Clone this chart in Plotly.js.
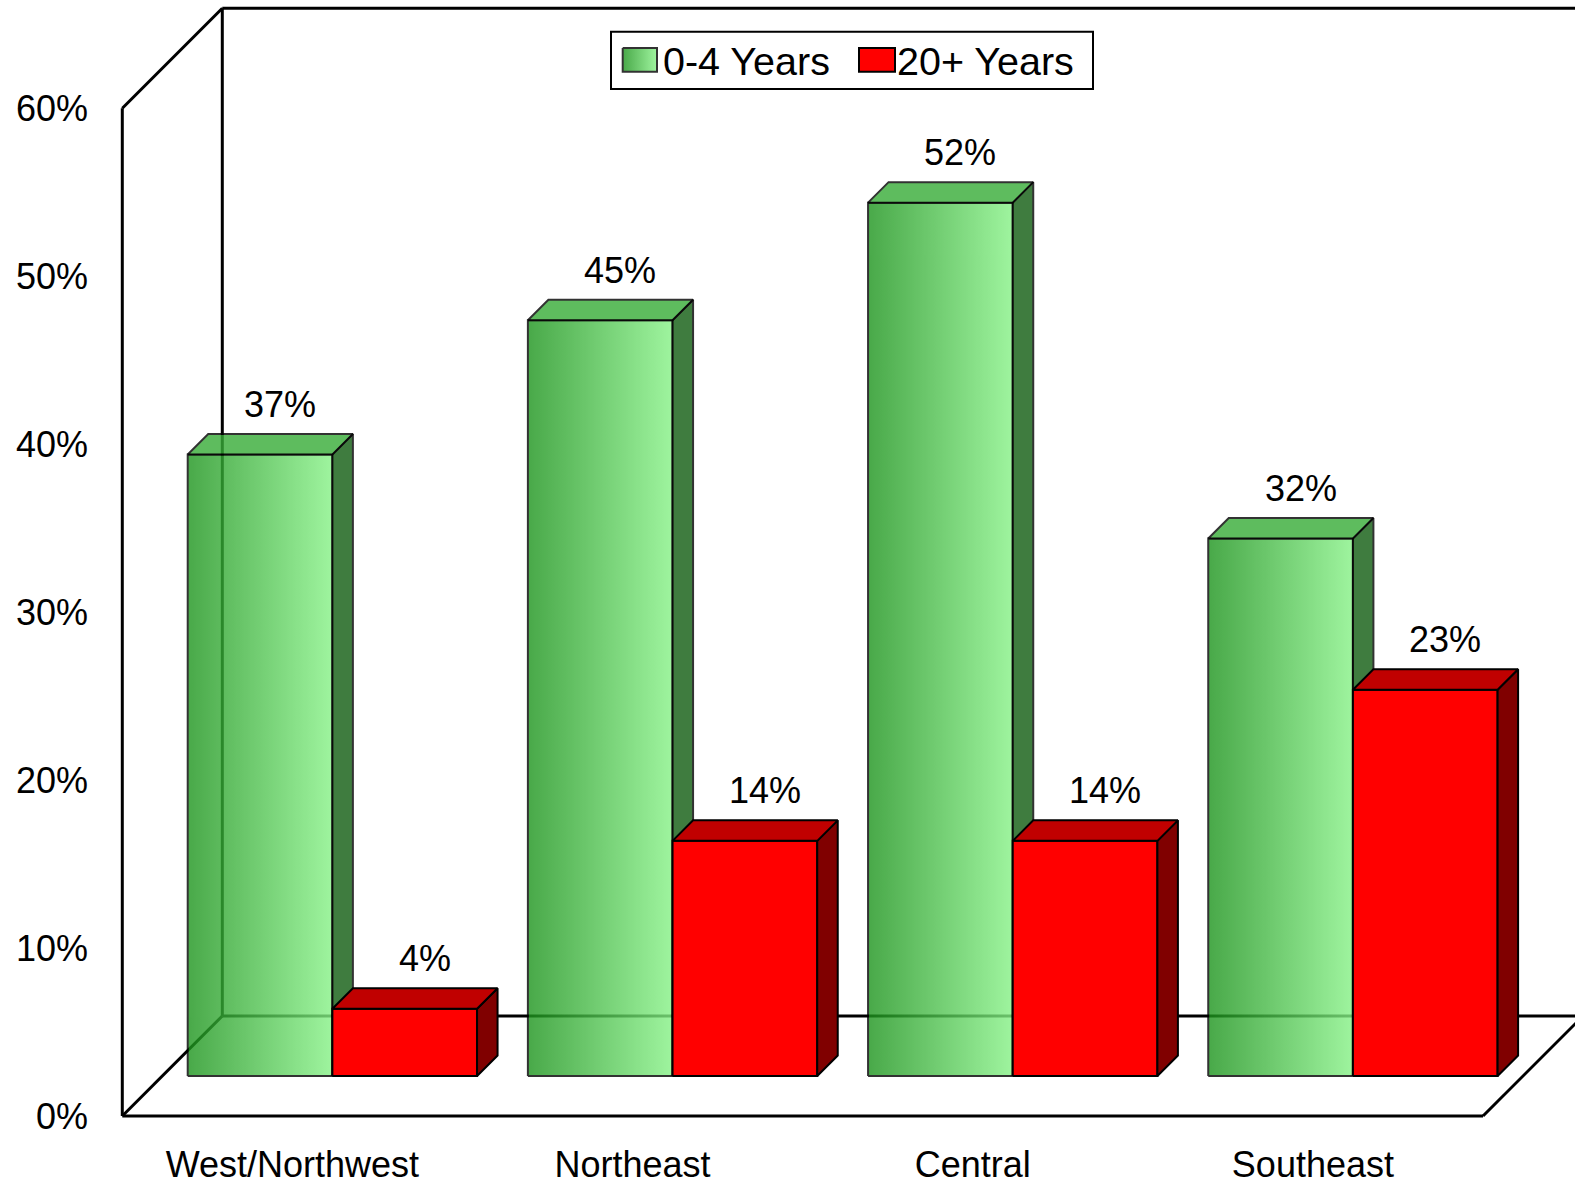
<!DOCTYPE html>
<html><head><meta charset="utf-8">
<script src="https://cdn.plot.ly/plotly-3.0.1.min.js"></script>
<style>html,body{margin:0;padding:0;background:#fff}#chart{width:1575px;height:1180px}</style>
</head><body><div id="chart"></div>
<script>
// ---- data ----
const categories = ['West/Northwest', 'Northeast', 'Central', 'Southeast'];
const years0to4 = [0.37, 0.45, 0.52, 0.32];
const years20plus = [0.04, 0.14, 0.14, 0.23];
const seriesNames = ['0-4 Years', '20+ Years'];
const yTickVals = [0, 0.1, 0.2, 0.3, 0.4, 0.5, 0.6];

// ---- geometry (pixels) ----
const W = 1575, H = 1180;
const FX0 = 122.3, FX1 = 1483, FY0 = 1116, FYTOP = 108.3; // front plane of the floor/walls
const DEPTH = 100;      // depth of the floor in px
const BAR_OFF = 40;     // offset of the bar row front plane
const BAR_D = 20.5;     // bar depth in px
const BAR_W = 0.4253;   // bar width in category units
const YMAX = 0.6;
const pxPerCat = (FX1 - FX0) / categories.length;
const pxPerVal = (FY0 - FYTOP) / YMAX;
const dxU = BAR_D / pxPerCat, dyU = BAR_D / pxPerVal;
const FONT = 'Liberation Sans, Arial, Helvetica, sans-serif';

const GREEN_SCALE = [[0, 'rgb(28,148,28)'], [1, 'rgb(135,242,135)']];
const GREEN_TOP = 'rgb(55,172,55)';
const GREEN_SIDE = 'rgb(16,92,16)';
const GREEN_OP = 0.8;
const RED_FRONT = '#ff0000', RED_TOP = '#c00000', RED_SIDE = '#800000';

const px = x => x / W;
const py = y => 1 - y / H;

const B2 = FY0 - BAR_OFF;
const PAD = 30;

function poly(xs, ys, opts) {
  return Object.assign({
    type: 'scatter', mode: 'lines',
    x: xs.concat([xs[0]]), y: ys.concat([ys[0]]),
    fill: 'toself', xaxis: 'x2', yaxis: 'y2',
    hoverinfo: 'skip', showlegend: false,
    line: {color: '#000', width: 2}
  }, opts);
}

const traces = [];
// invisible anchor trace so the front-plane axes (tick labels) are drawn
traces.push({
  type: 'scatter', mode: 'markers', xaxis: 'x', yaxis: 'y',
  x: categories.map((c, i) => i), y: categories.map(() => 0),
  marker: {opacity: 0, size: 1}, hoverinfo: 'skip', showlegend: false
});

const annotations = [];
categories.forEach((cat, i) => {
  const series = [
    {v: years0to4[i], x0: i - BAR_W, green: true, name: seriesNames[0]},
    {v: years20plus[i], x0: i, green: false, name: seriesNames[1]}
  ];
  series.forEach(s => {
    const x0 = s.x0, x1 = s.x0 + BAR_W, v = s.v;
    if (s.green) {
      traces.push(poly([x0, x1, x1, x0], [0, 0, v, v], {
        name: s.name, opacity: GREEN_OP,
        fillgradient: {type: 'horizontal', colorscale: GREEN_SCALE}
      }));
    } else {
      traces.push(poly([x0, x1, x1, x0], [0, 0, v, v], {name: s.name, fillcolor: RED_FRONT}));
    }
    traces.push(poly([x1, x1 + dxU, x1 + dxU, x1], [0, dyU, v + dyU, v], {
      name: s.name, fillcolor: s.green ? GREEN_SIDE : RED_SIDE, opacity: s.green ? GREEN_OP : 1
    }));
    traces.push(poly([x0, x1, x1 + dxU, x0 + dxU], [v, v, v + dyU, v + dyU], {
      name: s.name, fillcolor: s.green ? GREEN_TOP : RED_TOP, opacity: s.green ? GREEN_OP : 1
    }));
    annotations.push({
      xref: 'x2', yref: 'y2', x: (x0 + x1) / 2, y: v + dyU,
      xshift: 20, yshift: 7, xanchor: 'center', yanchor: 'bottom',
      text: Math.round(v * 100) + '%', showarrow: false,
      font: {family: FONT, size: 36, color: '#000'}
    });
  });
});

// legend swatch (green gradient) on a page-pixel overlay axis
traces.push({
  type: 'scatter', mode: 'lines', xaxis: 'x3', yaxis: 'y3',
  x: [622.7, 657, 657, 622.7, 622.7], y: [48, 48, 71.7, 71.7, 48],
  fill: 'toself', opacity: GREEN_OP,
  fillgradient: {type: 'horizontal', colorscale: GREEN_SCALE},
  line: {color: '#000', width: 2}, hoverinfo: 'skip', showlegend: false, name: seriesNames[0]
});

annotations.push(
  {xref: 'paper', yref: 'paper', x: px(661), y: py(61), xanchor: 'left', yanchor: 'middle',
   text: seriesNames[0], showarrow: false, font: {family: FONT, size: 39.5, color: '#000'}},
  {xref: 'paper', yref: 'paper', x: px(895), y: py(61), xanchor: 'left', yanchor: 'middle',
   text: seriesNames[1], showarrow: false, font: {family: FONT, size: 39.5, color: '#000'}}
);

function line(x0, y0, x1, y1, w) {
  return {type: 'line', xref: 'paper', yref: 'paper', layer: 'below',
    x0: px(x0), y0: py(y0), x1: px(x1), y1: py(y1), line: {color: '#000', width: w || 3}};
}
const D = DEPTH;
const shapes = [
  line(FX0, FY0, FX0, FYTOP),
  line(FX0, FYTOP, FX0 + D, FYTOP - D),
  line(FX0 + D, FYTOP - D, W + 10, FYTOP - D),
  line(FX0 + D, FYTOP - D, FX0 + D, FY0 - D),
  line(FX0, FY0, FX0 + D, FY0 - D),
  line(FX0 + D, FY0 - D, W + 10, FY0 - D),
  line(FX0, FY0, FX1, FY0),
  line(FX1, FY0, FX1 + D, FY0 - D),
  {type: 'rect', xref: 'paper', yref: 'paper', layer: 'below',
   x0: px(611), x1: px(1093), y0: py(89), y1: py(31.7),
   line: {color: '#000', width: 2}, fillcolor: '#fff'},
  {type: 'rect', xref: 'paper', yref: 'paper', layer: 'above',
   x0: px(859), x1: px(895), y0: py(71.7), y1: py(48),
   line: {color: '#000', width: 2}, fillcolor: RED_FRONT}
];

const layout = {
  width: W, height: H,
  margin: {l: 0, r: 0, t: 0, b: 0, pad: 0},
  paper_bgcolor: '#fff', plot_bgcolor: 'rgba(0,0,0,0)',
  showlegend: false,
  font: {family: FONT, size: 36, color: '#000'},
  xaxis: {
    domain: [px(FX0), px(FX1)], range: [-0.5, categories.length - 0.5],
    tickmode: 'array', tickvals: categories.map((c, i) => i), ticktext: categories,
    showgrid: false, zeroline: false, showline: false,
    ticks: 'outside', ticklen: 17, tickcolor: 'rgba(0,0,0,0)',
    tickfont: {family: FONT, size: 36, color: '#000'}, anchor: 'y', fixedrange: true
  },
  yaxis: {
    domain: [py(FY0), py(FYTOP)], range: [0, YMAX],
    tickmode: 'array', tickvals: yTickVals, tickformat: '.0%',
    showgrid: false, zeroline: false, showline: false,
    ticks: 'outside', ticklen: 26, tickcolor: 'rgba(0,0,0,0)',
    tickfont: {family: FONT, size: 36, color: '#000'}, anchor: 'x', fixedrange: true
  },
  xaxis2: {
    domain: [px(FX0 + BAR_OFF), px(FX1 + BAR_OFF)], range: [-0.5, categories.length - 0.5],
    visible: false, anchor: 'y2', fixedrange: true
  },
  yaxis2: {
    domain: [py(B2 + PAD), py(PAD)], range: [-PAD / pxPerVal, (B2 - PAD) / pxPerVal],
    visible: false, anchor: 'x2', fixedrange: true
  },
  xaxis3: {domain: [0, 1], range: [0, W], visible: false, anchor: 'y3', fixedrange: true},
  yaxis3: {domain: [0, 1], range: [H, 0], visible: false, anchor: 'x3', fixedrange: true},
  shapes: shapes,
  annotations: annotations
};

Plotly.newPlot('chart', traces, layout, {displayModeBar: false, staticPlot: true});
</script>
</body></html>
